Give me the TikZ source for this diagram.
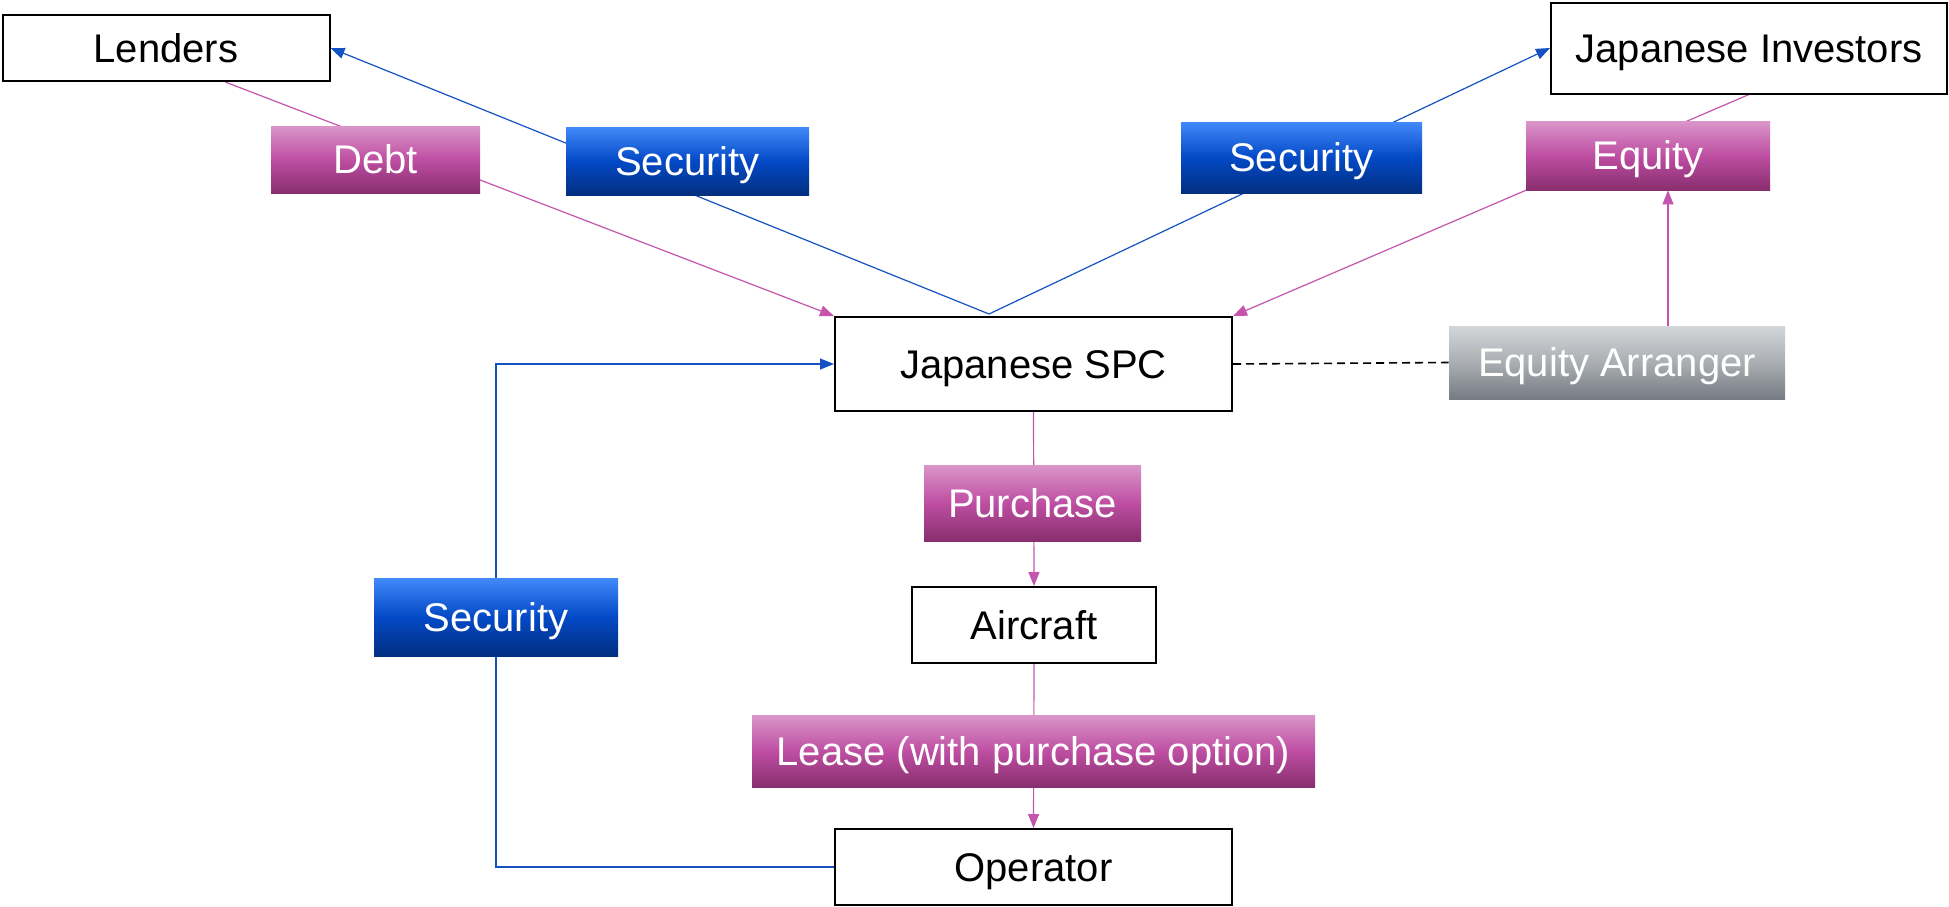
\documentclass[tikz,border=0pt]{standalone}
\usepackage{fontspec}
\setmainfont{Liberation Sans}
\usetikzlibrary{arrows.meta,calc}
\definecolor{flowpink}{HTML}{C454AC}
\definecolor{flowblue}{HTML}{1452C4}
\definecolor{pinktop}{HTML}{DA96CA}
\definecolor{pinkmid}{HTML}{BE4EA2}
\definecolor{pinkbot}{HTML}{882E6E}
\definecolor{bluetop}{HTML}{4289FA}
\definecolor{bluemid}{HTML}{0349C6}
\definecolor{bluebot}{HTML}{022F80}
\definecolor{greytop}{HTML}{D3D6D9}
\definecolor{greymid}{HTML}{AAAEB2}
\definecolor{greybot}{HTML}{767C84}
\pgfdeclarelayer{links}
\pgfsetlayers{links,main}
\tikzset{
  label text/.style={inner sep=0pt,text height=16pt,text depth=1.7pt,
    font=\fontsize{20}{24}\selectfont},
  party/.style={label text,draw=black,line width=1pt,fill=white},
  tag/.style={label text,text=white},
  pinktag/.style={tag,top color=pinktop,bottom color=pinkbot,middle color=pinkmid},
  bluetag/.style={tag,top color=bluetop,bottom color=bluebot,middle color=bluemid},
  greytag/.style={tag,top color=greytop,bottom color=greybot,middle color=greymid},
  pinkflow/.style={draw=flowpink,line width=0.6pt,-{Triangle[length=7pt,width=5.5pt]}},
  blueflow/.style={draw=flowblue,line width=0.6pt,-{Triangle[length=7pt,width=5.5pt]}}
}
\begin{document}
\begin{tikzpicture}[x=0.5pt,y=-0.5pt]
\useasboundingbox (0,0) rectangle (1949,906);

% parties
\node[party,minimum width=163.5pt,minimum height=33pt] (lenders) at (166,48) {Lenders};
\node[party,minimum width=198pt,minimum height=45.5pt] (investors) at (1749,48) {Japanese Investors};
\node[party,minimum width=198.5pt,minimum height=47pt] (spc) at (1033.5,364) {Japanese SPC};
\node[party,minimum width=122pt,minimum height=38pt] (aircraft) at (1034,625) {Aircraft};
\node[party,minimum width=198.5pt,minimum height=38pt] (operator) at (1033.5,867) {Operator};

% flow labels
\node[pinktag,minimum width=104.5pt,minimum height=33.5pt] (debt) at (375.5,159.5) {Debt};
\node[bluetag,minimum width=121.5pt,minimum height=34pt] (secl) at (687.5,161) {Security};
\node[bluetag,minimum width=120.5pt,minimum height=35.5pt] (secr) at (1301.5,157.5) {Security};
\node[pinktag,minimum width=122pt,minimum height=34.5pt] (equity) at (1648,155.5) {Equity};
\node[greytag,minimum width=168pt,minimum height=36.5pt] (arranger) at (1617,362.5) {Equity Arranger};
\node[pinktag,minimum width=108.5pt,minimum height=38pt] (purchase) at (1032.5,503) {Purchase};
\node[bluetag,minimum width=122pt,minimum height=39pt] (secop) at (496,617) {Security};
\node[pinktag,minimum width=281.5pt,minimum height=36pt] (lease) at (1033.5,751) {Lease (with purchase option)};

\coordinate (apex) at (989,314);
\coordinate (eqfoot) at ($(arranger.north)+(51,0)$);

\begin{pgfonlayer}{links}
  % security flows from the SPC
  \draw[blueflow] (apex) -- (lenders.east);
  \draw[blueflow] (apex) -- (investors.west);
  % funding into the SPC
  \draw[pinkflow] ($(lenders.south west)!0.68!(lenders.south east)$) -- (spc.north west);
  \draw[pinkflow] (investors.south) -- (spc.north east);
  % arranger brings equity
  \draw[pinkflow] (eqfoot) -- (eqfoot |- equity.south);
  \draw[black,line width=0.8pt,dash pattern=on 4pt off 2.5pt] (spc.east) -- (arranger.west);
  % purchase and lease chain
  \draw[pinkflow] (spc.south) -- (aircraft.north);
  \draw[pinkflow] (aircraft.south) -- (operator.north);
  % security from the operator
  \draw[blueflow] (operator.west) -| (secop.center) |- (spc.west);
\end{pgfonlayer}
\end{tikzpicture}
\end{document}
